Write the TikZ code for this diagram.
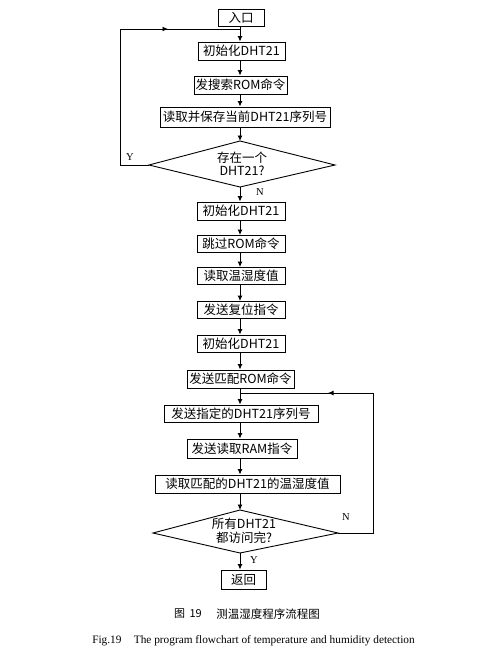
\documentclass[tikz,border=0pt]{standalone}
\usepackage{fontspec}
\setmainfont{Liberation Serif}
\newfontfamily\cjk{Noto Sans CJK SC}
\usetikzlibrary{arrows.meta}
\tikzset{
  box/.style={draw, line width=0.9pt, inner sep=0pt, font=\cjk\fontsize{12.5}{13}\selectfont, text=black},
  dectext/.style={inner sep=0pt, font=\cjk\fontsize{12.5}{13.5}\selectfont, align=center, text=black},
  flow/.style={line width=0.9pt, -{Latex[length=5.5pt,width=5pt]}},
  plain/.style={line width=0.9pt},
  lbl/.style={font=\fontsize{10.5}{11}\selectfont},
}
\begin{document}
\begin{tikzpicture}[x=1pt,y=-1pt]
\useasboundingbox (0,0) rectangle (485,666);
\coordinate (spine) at (240,0);
% boxes
\node[box, minimum width=46pt, minimum height=17pt] (entry) at (241,17.5) {入口};
\node[box, minimum width=87pt, minimum height=18pt] (init1) at (241.5,51) {初始化DHT21};
\node[box, minimum width=93pt, minimum height=18pt] (search) at (240.5,85) {发搜索ROM命令};
\node[box, minimum width=170pt, minimum height=20pt] (readsave) at (245,117) {读取并保存当前DHT21序列号};
% diamond 1
\coordinate (d1t) at (240,141);
\coordinate (d1r) at (335,165);
\coordinate (d1b) at (240,187);
\coordinate (d1l) at (149,165);
\draw[plain] (d1t) -- (d1r) -- (d1b) -- (d1l) -- cycle;
\node[dectext] (d1) at (242,164) {存在一个\\DHT21?};
\node[box, minimum width=88pt, minimum height=18pt] (init2) at (241,211) {初始化DHT21};
\node[box, minimum width=88pt, minimum height=17pt] (skip) at (241,244) {跳过ROM命令};
\node[box, minimum width=88pt, minimum height=17pt] (readth) at (241,276) {读取温湿度值};
\node[box, minimum width=88pt, minimum height=17pt] (reset) at (241,310) {发送复位指令};
\node[box, minimum width=88pt, minimum height=17pt] (init3) at (241,343.5) {初始化DHT21};
\node[box, minimum width=107pt, minimum height=18pt] (match) at (240.5,379) {发送匹配ROM命令};
\node[box, minimum width=154pt, minimum height=17pt] (sendid) at (241,413.5) {发送指定的DHT21序列号};
\node[box, minimum width=110pt, minimum height=19pt] (readram) at (242,448.5) {发送读取RAM指令};
\node[box, minimum width=185pt, minimum height=18pt] (readmatch) at (247.5,484) {读取匹配的DHT21的温湿度值};
% diamond 2
\coordinate (d2t) at (240,510);
\coordinate (d2r) at (338,533);
\coordinate (d2b) at (240,553);
\coordinate (d2l) at (153,533);
\draw[plain] (d2t) -- (d2r) -- (d2b) -- (d2l) -- cycle;
\node[dectext] (d2) at (244,531) {所有DHT21\\都访问完?};
\node[box, minimum width=45pt, minimum height=19pt] (ret) at (243.5,579.5) {返回};
% labels
\node[lbl] (y1) at (130,157) {Y};
\node[lbl] (n1) at (260,192) {N};
\node[lbl] (n2) at (346,517) {N};
\node[lbl] (y2) at (254,560) {Y};
% main arrows
\draw[flow] (entry.south -| spine) -- (init1.north -| spine);
\draw[flow] (init1.south -| spine) -- (search.north -| spine);
\draw[flow] (search.south -| spine) -- (readsave.north -| spine);
\draw[flow] (readsave.south -| spine) -- (d1t);
\draw[flow] (d1b) -- (init2.north -| spine);
\draw[flow] (init2.south -| spine) -- (skip.north -| spine);
\draw[flow] (skip.south -| spine) -- (readth.north -| spine);
\draw[flow] (readth.south -| spine) -- (reset.north -| spine);
\draw[flow] (reset.south -| spine) -- (init3.north -| spine);
\draw[flow] (init3.south -| spine) -- (match.north -| spine);
\draw[flow] (match.south -| spine) -- (sendid.north -| spine);
\draw[flow] (sendid.south -| spine) -- (readram.north -| spine);
\draw[flow] (readram.south -| spine) -- (readmatch.north -| spine);
\draw[flow] (readmatch.south -| spine) -- (d2t);
\draw[flow] (d2b) -- (ret.north -| spine);
% loop 1 (Y)
\coordinate (l1a) at (120,165);
\coordinate (l1b) at (120,29);
\coordinate (l1m) at (168,29);
\coordinate (l1j) at (240,29);
\draw[plain] (d1l) -- (l1a) -- (l1b) -- (l1j);
\draw[flow] (l1b) -- (l1m);
% loop 2 (N)
\coordinate (l2a) at (373,533);
\coordinate (l2b) at (373,393);
\coordinate (l2m) at (328,393);
\coordinate (l2j) at (240,393);
\draw[plain] (d2r) -- (l2a) -- (l2b) -- (l2j);
\draw[flow] (l2b) -- (l2m);
% captions
\node[font=\cjk\fontsize{11}{12}\selectfont] (cap1a) at (188,614) {图\hspace{0.4em}19};
\node[font=\cjk\fontsize{11.5}{12}\selectfont] (cap1b) at (268,614) {测温湿度程序流程图};
\node[font=\fontsize{11.3}{12}\selectfont] (cap2) at (253.5,641) {Fig.19\hspace{1.1em}The program flowchart of temperature and humidity detection};
\end{tikzpicture}
\end{document}
